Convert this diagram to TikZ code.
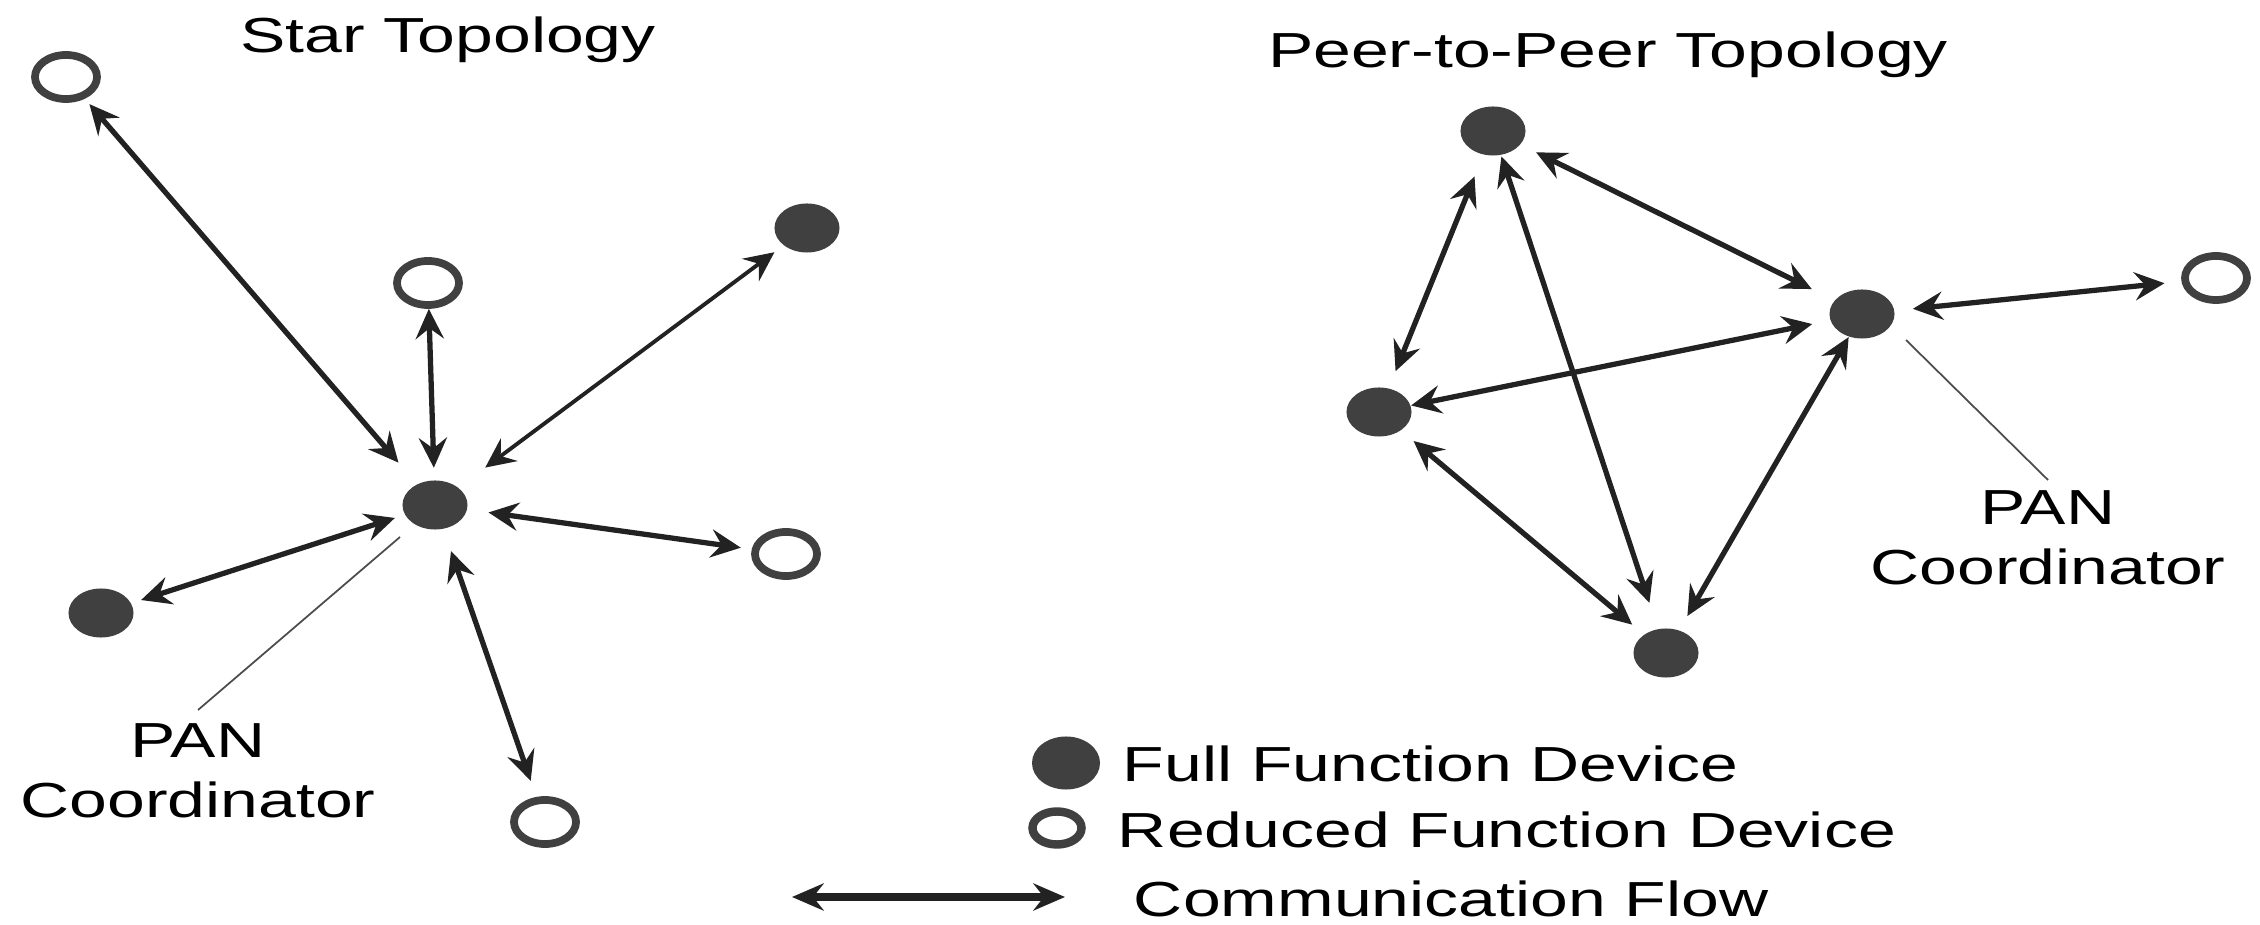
\documentclass[tikz,border=0pt]{standalone}
\usepackage{fontspec}
\setmainfont{Liberation Sans}
\usetikzlibrary{arrows.meta,shapes.geometric}

\definecolor{devgray}{HTML}{404040}
\definecolor{flowgray}{HTML}{222222}

\begin{document}
\begin{tikzpicture}[x=0.01cm,y=-0.01cm,
    ffd/.style={ellipse,fill=devgray,minimum width=0.65cm,minimum height=0.49cm,inner sep=0pt},
    rfd/.style={ellipse,draw=devgray,line width=2.2pt,minimum width=0.62cm,minimum height=0.44cm,inner sep=0pt},
    flow/.style={{Stealth[length=8.5pt,width=8pt,inset=3pt]}-{Stealth[length=8.5pt,width=8pt,inset=3pt]},
      draw=flowgray,line width=1.5pt},
    lbl/.style={font=\fontsize{14pt}{17pt}\selectfont,xscale=1.38,inner sep=0pt},
    leader/.style={draw=black!70,line width=0.5pt}]
    \useasboundingbox (0,0) rectangle (2260,925);

    % star
    \node[lbl,anchor=base] (startitle) at (448,53) {Star Topology};
    \node[ffd] (hub) at (435,505) {};
    \node[rfd] (s1) at (66,77) {};
    \node[rfd] (s2) at (428,283) {};
    \node[ffd] (s3) at (807,228) {};
    \node[ffd] (s4) at (101,613) {};
    \node[rfd] (s5) at (786,554) {};
    \node[rfd] (s6) at (545,822) {};
    \draw[flow,shorten <=0.07cm,shorten >=0.28cm] (s1) -- (hub);
    \draw[flow,shorten <=0cm,shorten >=0.12cm] (s2) -- (hub);
    \draw[flow,line width=1.1pt,shorten <=0.11cm,shorten >=0.33cm] (s3) -- (hub);
    \draw[flow,shorten <=0.10cm,shorten >=0.10cm] (s4) -- (hub);
    \draw[flow,shorten <=0.11cm,shorten >=0.21cm] (s5) -- (hub);
    \draw[flow,shorten <=0.17cm,shorten >=0.23cm] (s6) -- (hub);
    \node[lbl,align=center,anchor=north] (pan1) at (198,723) {PAN\\Coordinator};
    \coordinate (lead1) at (400,537);
    \draw[leader] (lead1) -- ([yshift=0.13cm]pan1.north);

    % peer-to-peer
    \node[lbl,anchor=base] (p2ptitle) at (1608,68) {Peer-to-Peer Topology};
    \node[ffd] (pa) at (1493,131) {};
    \node[ffd] (pb) at (1862,314) {};
    \node[ffd] (pc) at (1379,412) {};
    \node[ffd] (pd) at (1666,653) {};
    \node[rfd] (pr) at (2216,278) {};
    \draw[flow,shorten <=0.17cm,shorten >=0.25cm] (pa) -- (pb);
    \draw[flow,shorten <=0.23cm,shorten >=0.18cm] (pa) -- (pc);
    \draw[flow,shorten <=0.01cm,shorten >=0.27cm] (pa) -- (pd);
    \draw[flow,shorten <=0cm,shorten >=0.18cm] (pc) -- (pb);
    \draw[flow,shorten <=0.18cm,shorten >=0.17cm] (pb) -- (pr);
    \draw[flow,shorten <=0.16cm,shorten >=0cm] (pd) -- (pb);
    \draw[flow,shorten <=0.16cm,shorten >=0.15cm] (pc) -- (pd);
    \node[lbl,align=center,anchor=north] (pan2) at (2048,490) {PAN\\Coordinator};
    \coordinate (lead2) at (1906,340);
    \draw[leader] (lead2) -- ([yshift=0.10cm]pan2.north);

    % key
    \node[ffd,minimum width=0.68cm,minimum height=0.53cm] (keyffd) at (1066,763) {};
    \node[rfd,line width=2.4pt,minimum width=0.49cm,minimum height=0.33cm] (keyrfd) at (1057,828) {};
    \coordinate (keyl) at (792,897);
    \coordinate (keyr) at (1065,897);
    \draw[{Stealth[length=9pt,width=7.7pt,inset=3pt]}-{Stealth[length=9pt,width=7.7pt,inset=3pt]},draw=flowgray,line width=2pt] (keyl) -- (keyr);
    \node[lbl,anchor=base west] (keyffdtxt) at (1122,782) {Full Function Device};
    \node[lbl,anchor=base west] (keyrfdtxt) at (1117,848) {Reduced Function Device};
    \node[lbl,anchor=base west] (keyflowtxt) at (1133,916) {Communication Flow};
\end{tikzpicture}
\end{document}
